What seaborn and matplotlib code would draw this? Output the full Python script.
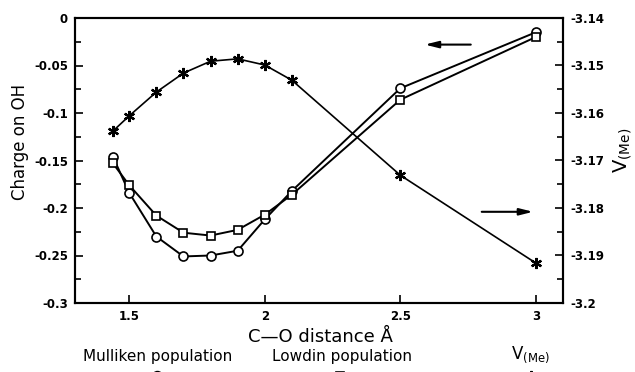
import matplotlib
matplotlib.use("Agg")
import matplotlib.pyplot as plt
import seaborn as sns
import numpy as np
import pandas as pd
from matplotlib.ticker import MultipleLocator, FuncFormatter

# data
distance = [1.44, 1.5, 1.6, 1.7, 1.8, 1.9, 2.0, 2.1, 2.5, 3.0]
mulliken = [-0.146, -0.184, -0.230, -0.251, -0.250, -0.245, -0.212, -0.182, -0.074, -0.015]
lowdin = [-0.153, -0.176, -0.208, -0.226, -0.229, -0.223, -0.207, -0.186, -0.086, -0.020]
v_me = [-3.1638, -3.1606, -3.1556, -3.1516, -3.1491, -3.1486, -3.1499, -3.1531, -3.1731, -3.1916]

left_ticks = [0, -0.05, -0.1, -0.15, -0.2, -0.25, -0.3]
right_ticks = [-3.14, -3.15, -3.16, -3.17, -3.18, -3.19, -3.2]
x_ticks = [1.5, 2, 2.5, 3]

sns.set_style("ticks")
plt.rcParams['font.family'] = ['DejaVu Sans']
plt.rcParams['axes.unicode_minus'] = False
plt.rcParams['text.color'] = 'black'
plt.rcParams['axes.labelcolor'] = 'black'
plt.rcParams['xtick.color'] = 'black'
plt.rcParams['ytick.color'] = 'black'
plt.rcParams['axes.edgecolor'] = 'black'

df = pd.DataFrame({"d": distance, "mul": mulliken, "low": lowdin, "v": v_me})

fig = plt.figure(figsize=(6.35, 3.72), dpi=100)
ax = fig.add_axes([75/635, 1-303/372, (563-75)/635, (303-18)/372])
ax2 = ax.twinx()

sns.lineplot(data=df, x="d", y="mul", ax=ax, color="black", lw=1.4, marker="o",
             markersize=6.5, markerfacecolor="white", markeredgecolor="black", markeredgewidth=1.2)
sns.lineplot(data=df, x="d", y="low", ax=ax, color="black", lw=1.4, marker="s",
             markersize=5.5, markerfacecolor="white", markeredgecolor="black", markeredgewidth=1.2)
sns.lineplot(data=df, x="d", y="v", ax=ax2, color="black", lw=1.2, marker=(6, 2, 0),
             markersize=8, markeredgecolor="black", markeredgewidth=1.6)

ax.set_xlim(1.3, 3.1)
ax.set_ylim(-0.3, 0)
ax2.set_ylim(-3.2, -3.14)
ax.set_xticks(x_ticks)
ax.set_yticks(left_ticks)
ax2.set_yticks(right_ticks)
ax.yaxis.set_minor_locator(MultipleLocator(0.025))
ax2.yaxis.set_minor_locator(MultipleLocator(0.005))
fmt = FuncFormatter(lambda v, p: "%g" % round(v, 4))
ax.xaxis.set_major_formatter(fmt)
ax.yaxis.set_major_formatter(fmt)
ax2.yaxis.set_major_formatter(fmt)

for a in (ax, ax2):
    for s in a.spines.values():
        s.set_linewidth(1.5)
        s.set_visible(True)
        s.set_color("black")
    a.tick_params(which="both", direction="in", width=1.2, labelsize=8.5, pad=5, colors="black")
    a.tick_params(which="major", length=6)
    a.tick_params(which="minor", length=4)
    for lab in a.get_xticklabels() + a.get_yticklabels():
        lab.set_fontweight("bold")
ax.set_xlabel("")
ax.set_ylabel("Charge on OH", fontsize=12, color="black", va="center", ha="center")
ax.yaxis.set_label_coords(-0.113, 0.565)
ax2.set_ylabel(r"$\mathsf{V}_{\mathsf{(Me)}}$", fontsize=14, color="black", va="center", ha="center")
ax2.yaxis.set_label_coords(1.123, 0.537)

fig.text(320/635, 1-337/372, "C\u2014O distance \u00c5", ha="center", va="center", fontsize=13)

# arrows
ax.annotate("", xy=(2.58, -0.028), xytext=(2.77, -0.028),
            arrowprops=dict(arrowstyle="-|>,head_length=0.8,head_width=0.2", color="black", lw=1.5))
ax.annotate("", xy=(3.0, -0.204), xytext=(2.79, -0.204),
            arrowprops=dict(arrowstyle="-|>,head_length=0.8,head_width=0.2", color="black", lw=1.5))

# legend row at bottom
ly = 1 - 357/372
fig.text(158/635, ly, "Mulliken population", ha="center", va="center", fontsize=11)
fig.text(342/635, ly, "Lowdin population", ha="center", va="center", fontsize=11)
fig.text(530/635, ly + 0.005, r"$\mathsf{V}_{\mathsf{(Me)}}$", ha="center", va="center", fontsize=12)
my = 1 - 376/372
fig.lines.append(plt.Line2D([157/635], [my], transform=fig.transFigure, marker="o", markersize=7,
                            markerfacecolor="white", markeredgecolor="black", markeredgewidth=1.2, ls=""))
fig.lines.append(plt.Line2D([340/635], [my], transform=fig.transFigure, marker="s", markersize=6,
                            markerfacecolor="white", markeredgecolor="black", markeredgewidth=1.2, ls=""))
fig.lines.append(plt.Line2D([515/635, 548/635], [my, my], transform=fig.transFigure, color="black", lw=1.2))
fig.lines.append(plt.Line2D([531/635], [my], transform=fig.transFigure, marker=(6, 2, 0), markersize=8,
                            markeredgecolor="black", markeredgewidth=1.4, ls=""))

fig.savefig("out.png", dpi=100)
